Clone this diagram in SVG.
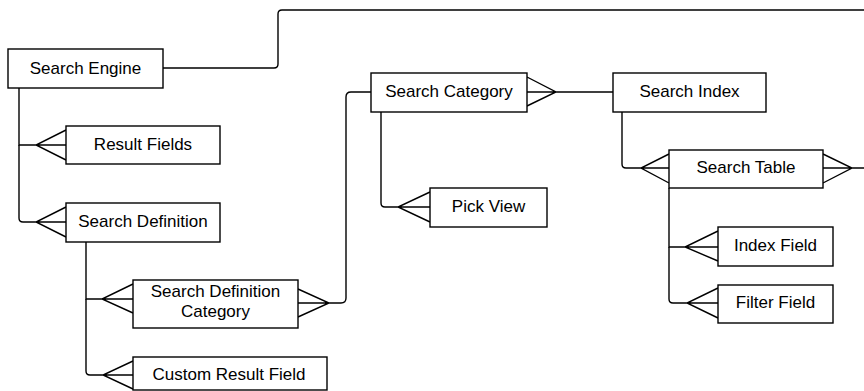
<svg xmlns="http://www.w3.org/2000/svg" width="864" height="391" viewBox="0 0 864 391">
<style>
.box{fill:#fff;stroke:#000;stroke-width:1.4}
.t{font-family:"Liberation Sans",Arial,sans-serif;font-size:17px;fill:#000;text-anchor:middle}
.c{fill:none;stroke:#000;stroke-width:1.4}
</style>
<rect width="864" height="391" fill="#fff"/>
<g id="connectors" class="c">
<path d="M163,68 H274 Q278,68 278,64 V14 Q278,10 282,10 H864"/>
<path d="M19,88 V145 H36 M66,130 L36,145 L66,160 M36,145 H66"/>
<path d="M19,145 V218 Q19,222 23,222 H36 M66,207 L36,222 L66,237 M36,222 H66"/>
<path d="M86,242 V299 H102 M133,284 L102,299 L133,313 M102,299 H133"/>
<path d="M86,299 V371 Q86,375 90,375 H103 M133,361 L103,375 L133,389 M103,375 H133"/>
<path d="M298,289 L329,303 L298,317 M298,303 H329 M329,303 H341 Q346,303 346,298 V97 Q346,92 351,92 H371"/>
<path d="M527,77 L556,92 L527,106 M527,92 H556 M556,92 H613"/>
<path d="M381,112 V203 Q381,207 385,207 H398 M430,192 L398,207 L430,222 M398,207 H430"/>
<path d="M622,112 V164 Q622,168 626,168 H641 M669,154 L641,168 L669,183 M641,168 H669"/>
<path d="M823,154 L852,168 L823,183 M823,168 H852 M852,168 H864"/>
<path d="M669,188 V247 H685 M718,231 L685,247 L718,261 M685,247 H718"/>
<path d="M669,247 V299 Q669,303 673,303 H687 M718,288 L687,303 L718,318 M687,303 H718"/>
</g>
<g id="search-engine"><rect class="box" x="8" y="49" width="155" height="39"/><text class="t" x="85.5" y="74">Search Engine</text></g>
<g id="result-fields"><rect class="box" x="66" y="126" width="154" height="38"/><text class="t" x="143" y="150">Result Fields</text></g>
<g id="search-definition"><rect class="box" x="66" y="203" width="154" height="39"/><text class="t" x="143" y="227">Search Definition</text></g>
<g id="search-definition-category"><rect class="box" x="133" y="280" width="165" height="48"/><text class="t" x="215.5" y="297">Search Definition</text><text class="t" x="215.5" y="317">Category</text></g>
<g id="custom-result-field"><rect class="box" x="133" y="357" width="194" height="33"/><text class="t" x="229" y="380">Custom Result Field</text></g>
<g id="search-category"><rect class="box" x="371" y="73" width="156" height="39"/><text class="t" x="449" y="97">Search Category</text></g>
<g id="pick-view"><rect class="box" x="430" y="188" width="117" height="39"/><text class="t" x="488.5" y="212">Pick View</text></g>
<g id="search-index"><rect class="box" x="613" y="73" width="153" height="39"/><text class="t" x="689.5" y="97">Search Index</text></g>
<g id="search-table"><rect class="box" x="669" y="150" width="154" height="38"/><text class="t" x="746" y="173">Search Table</text></g>
<g id="index-field"><rect class="box" x="718" y="227" width="115" height="39"/><text class="t" x="775.5" y="251">Index Field</text></g>
<g id="filter-field"><rect class="box" x="718" y="285" width="115" height="38"/><text class="t" x="775.5" y="308">Filter Field</text></g>
</svg>
